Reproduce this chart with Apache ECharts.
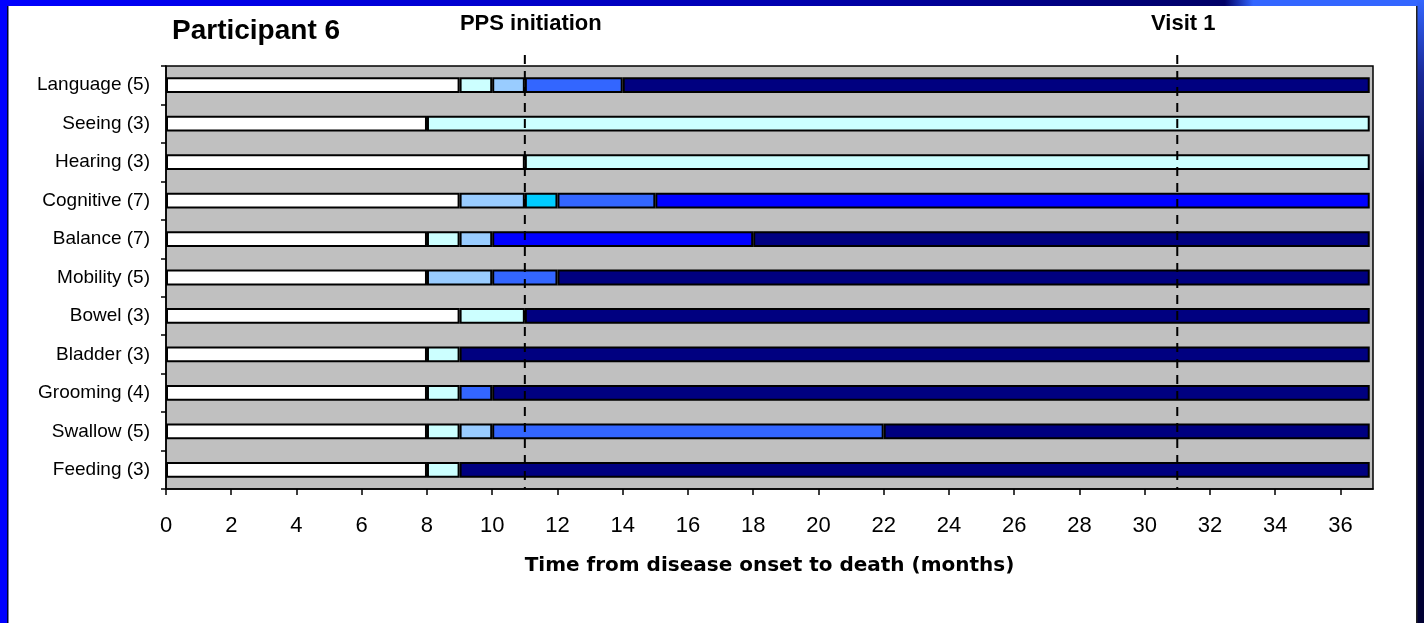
<!DOCTYPE html>
<html>
<head>
<meta charset="utf-8">
<script src="https://cdn.jsdelivr.net/npm/echarts@6/dist/echarts.min.js"></script>
<style>
  html, body { margin: 0; padding: 0; background: #fff; }
  #main { width: 1424px; height: 623px; }
</style>
</head>
<body>
<div id="main"></div>
<script>
// 功能项（上到下）
var categories = ['Language (5)', 'Seeing (3)', 'Hearing (3)', 'Cognitive (7)', 'Balance (7)',
  'Mobility (5)', 'Bowel (3)', 'Bladder (3)', 'Grooming (4)', 'Swallow (5)', 'Feeding (3)'];
// 每项各阶段的起止月份
var boundaries = [
  [0, 9, 10, 11, 14, 36.9],
  [0, 8, 36.9],
  [0, 11, 36.9],
  [0, 9, 11, 12, 15, 36.9],
  [0, 8, 9, 10, 18, 36.9],
  [0, 8, 10, 12, 36.9],
  [0, 9, 11, 36.9],
  [0, 8, 9, 36.9],
  [0, 8, 9, 10, 36.9],
  [0, 8, 9, 10, 22, 36.9],
  [0, 8, 9, 36.9]
];
// 各阶段的严重程度 (0=正常 ... 6=最重)
var stages = [
  [0, 1, 2, 4, 6],
  [0, 1],
  [0, 1],
  [0, 2, 3, 4, 5],
  [0, 1, 2, 5, 6],
  [0, 2, 4, 6],
  [0, 1, 6],
  [0, 1, 6],
  [0, 1, 4, 6],
  [0, 1, 2, 4, 6],
  [0, 1, 6]
];
var markerNames = ['PPS initiation', 'Visit 1'];
var markerMonths = [11, 31];
var tickValues = [0, 2, 4, 6, 8, 10, 12, 14, 16, 18, 20, 22, 24, 26, 28, 30, 32, 34, 36];

var palette = ['#FFFFFF', '#CCFFFF', '#99CCFF', '#00CCFF', '#3366FF', '#0000FF', '#000080'];
var FONT = 'Arial, "Liberation Sans", sans-serif';

var maxSeg = 0;
boundaries.forEach(function (b) { maxSeg = Math.max(maxSeg, b.length - 1); });

var series = [];
for (var k = 0; k < maxSeg; k++) {
  var d = [];
  for (var i = 0; i < categories.length; i++) {
    var b = boundaries[i];
    if (k + 1 < b.length) {
      d.push({ value: b[k + 1] - b[k], itemStyle: { color: palette[stages[i][k]] } });
    } else {
      d.push('-');
    }
  }
  series.push({
    type: 'bar',
    stack: 'onset',
    barWidth: '41%',
    data: d,
    itemStyle: { borderColor: '#000', borderWidth: 2 },
    emphasis: { disabled: true },
    z: 3
  });
}

// 虚线标记（PPS开始 / 第一次访视）
series.push({
  type: 'custom',
  clip: false,
  z: 10,
  silent: true,
  data: markerMonths.map(function (m) { return [m, 0]; }),
  encode: { x: 0, y: 1 },
  renderItem: function (params, api) {
    var x = api.coord([api.value(0), 0])[0];
    var cs = params.coordSys;
    return {
      type: 'group',
      children: [{
        type: 'line',
        shape: { x1: x, y1: cs.y - 11, x2: x, y2: cs.y + cs.height },
        style: { stroke: '#000', lineWidth: 2, lineDash: [9, 7] }
      }, {
        type: 'text',
        style: {
          x: x + 6, y: cs.y - 42,
          text: markerNames[params.dataIndex],
          font: 'bold 22px ' + FONT,
          fill: '#000',
          align: 'center', verticalAlign: 'middle'
        }
      }]
    };
  }
});

var option = {
  animation: false,
  backgroundColor: '#FFFFFF',
  title: {
    text: 'Participant 6',
    left: 167, top: 12,
    textStyle: { fontFamily: FONT, fontWeight: 'bold', fontSize: 28, color: '#000' }
  },
  graphic: [
    { type: 'rect', shape: { x: 0, y: 0, width: 7, height: 623 }, style: { fill: '#0000FF' } },
    { type: 'rect', shape: { x: 7, y: 0, width: 1.5, height: 623 }, style: { fill: '#000033' } },
    { type: 'rect', shape: { x: 0, y: 0, width: 1424, height: 6 },
      style: { fill: new echarts.graphic.LinearGradient(0, 0, 1, 0, [
        { offset: 0, color: '#0000FF' }, { offset: 0.55, color: '#0000B0' },
        { offset: 0.86, color: '#000066' }, { offset: 0.88, color: '#3366FF' }, { offset: 1, color: '#3366FF' }
      ]) } },
    { type: 'rect', shape: { x: 1417, y: 0, width: 7, height: 623 },
      style: { fill: new echarts.graphic.LinearGradient(0, 0, 0, 1, [
        { offset: 0, color: '#3366FF' }, { offset: 0.12, color: '#1a2a99' }, { offset: 0.3, color: '#000044' }, { offset: 1, color: '#000033' }
      ]) } },
    { type: 'rect', shape: { x: 1416, y: 6, width: 1.5, height: 617 }, style: { fill: '#222' } }
  ],
  grid: {
    left: 166, right: 51, top: 66, bottom: 134,
    show: true, backgroundColor: '#C0C0C0', borderColor: '#000', borderWidth: 1.5
  },
  xAxis: {
    type: 'value', min: 0, max: 37,
    name: 'Time from disease onset to death (months)',
    nameLocation: 'middle', nameGap: 67,
    nameTextStyle: { fontFamily: '"DejaVu Sans", sans-serif', fontWeight: 'bold', fontSize: 20, color: '#000' },
    axisLine: { show: true, lineStyle: { color: '#000', width: 1.5 } },
    axisTick: { show: true, length: 6, customValues: tickValues, lineStyle: { color: '#000', width: 1.5 } },
    axisLabel: { customValues: tickValues, fontFamily: FONT, fontSize: 22, color: '#000', margin: 26 },
    splitLine: { show: false }
  },
  yAxis: {
    type: 'category', inverse: true,
    data: categories,
    axisLine: { show: true, lineStyle: { color: '#000', width: 1.5 } },
    axisTick: { show: true, length: 5, interval: 0, lineStyle: { color: '#000', width: 1.5 } },
    axisLabel: { fontFamily: FONT, fontSize: 19, color: '#000', margin: 16, interval: 0 },
    splitLine: { show: false }
  },
  series: series
};

var chart = echarts.init(document.getElementById('main'));
chart.setOption(option);
</script>
</body>
</html>
